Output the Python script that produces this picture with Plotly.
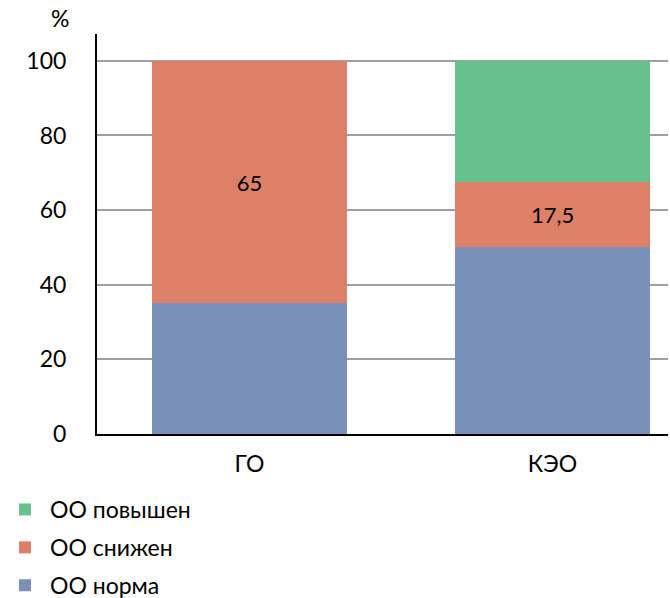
import plotly.graph_objects as go

categories = ["ГО", "КЭО"]
norma = [35, 50]
snizhen = [65, 17.5]
povyshen = [0, 32.5]
snizhen_labels = ["65", "17,5"]
y_ticks = [0, 20, 40, 60, 80, 100]

FONT = "Lato, Open Sans, sans-serif"
C_NORMA = "#7A90B8"
C_SNIZ = "#DC8068"
C_POV = "#67C18D"

fig = go.Figure()
fig.add_trace(go.Bar(x=categories, y=norma, name="ОО норма", marker=dict(color=C_NORMA, line=dict(width=0)),
                     legendgroup="a", legendrank=3))
fig.add_trace(go.Bar(x=categories, y=snizhen, name="ОО снижен", marker=dict(color=C_SNIZ, line=dict(width=0)),
                     text=snizhen_labels, textposition="inside", insidetextanchor="middle",
                     textfont=dict(size=22, color="black", family=FONT), legendgroup="b", legendrank=2))
fig.add_trace(go.Bar(x=categories, y=povyshen, name="ОО повышен", marker=dict(color=C_POV, line=dict(width=0)),
                     legendgroup="c", legendrank=1))

fig.update_layout(
    barmode="stack",
    bargap=1 - 0.644,
    width=670, height=598,
    margin=dict(l=97, r=2, t=34, b=164, autoexpand=False),
    plot_bgcolor="white", paper_bgcolor="white",
    font=dict(family=FONT, size=23, color="black"),
    showlegend=True,
    legend=dict(x=0.0, xref="container", xanchor="left", y=1 - 488 / 598, yref="container", yanchor="top",
                traceorder="grouped", tracegroupgap=5,
                font=dict(size=23, family=FONT), itemwidth=40),
    xaxis=dict(range=[-0.503, 1.381], showline=True, linecolor="black", linewidth=2,
               ticks="", showgrid=False, tickfont=dict(size=23), ticklabelstandoff=8),
    yaxis=dict(range=[0, 107.2], tickvals=y_ticks, showline=True, linecolor="black", linewidth=2,
               ticks="", showgrid=True, gridcolor="#a0a0a0", gridwidth=1.5, zeroline=False,
               tickfont=dict(size=23), ticklabelstandoff=24),
    annotations=[dict(text="%", xref="paper", yref="paper", x=-0.065, y=1.0, xanchor="center",
                      yanchor="bottom", showarrow=False, font=dict(size=23))],
)

fig.write_html("out.html")
